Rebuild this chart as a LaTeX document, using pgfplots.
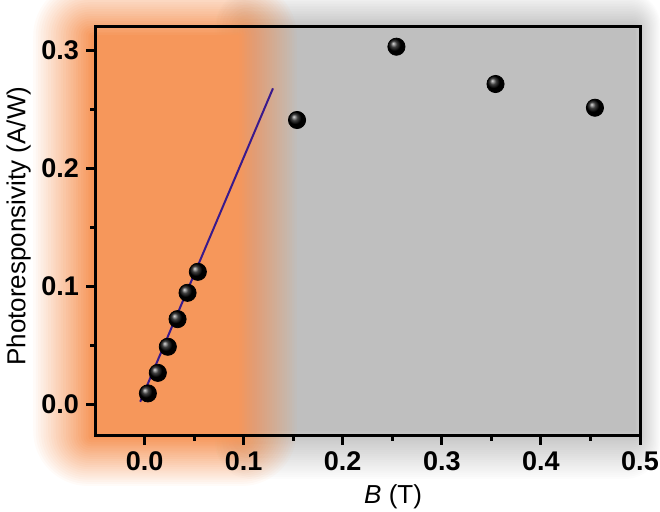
\documentclass[border=0pt]{standalone}
\usepackage{pgfplots}
\pgfplotsset{compat=1.18}
\usepackage{fontspec}
\setmainfont{Liberation Sans}
\definecolor{bgorange}{RGB}{246,151,91}
\definecolor{bggray}{RGB}{191,191,191}
\definecolor{fitline}{RGB}{58,26,140}

\begin{document}
\begin{tikzpicture}
\useasboundingbox (0,0) rectangle (330pt,-256pt);
% soft coloured panels behind the axis, in pixel units (1px = 0.5pt, y down)
\begin{scope}[x=0.5pt,y=-0.5pt]
  % gray panel
  \foreach \k in {1,...,24}{
    \pgfmathsetmacro\op{1/(25-\k)}
    \pgfmathsetmacro\t{-1+(\k-0.5)*2/24}
    \pgfmathsetmacro\r{max(0.3,(1-\t)*9)}
    \fill[bggray,opacity=\op,rounded corners=\r pt]
      (230+15*\t,10+20*\t) rectangle (648-13*\t,455-25*\t);
  }
  % orange panel
  \foreach \k in {1,...,24}{
    \pgfmathsetmacro\op{1/(25-\k)}
    \pgfmathsetmacro\t{-1+(\k-0.5)*2/24}
    \pgfmathsetmacro\r{max(0.3,(1-\t)*14)}
    \fill[bgorange,opacity=\op,rounded corners=\r pt]
      (62+30*\t,8+28*\t) rectangle (268-30*\t,462-25*\t);
  }
\end{scope}

\begin{axis}[
    at={(47.5pt,-218pt)}, anchor=south west,
    scale only axis,
    width=272.5pt, height=204.5pt,
    xmin=-0.05, xmax=0.5,
    ymin=-0.027, ymax=0.3195,
    xtick={0,0.1,0.2,0.3,0.4,0.5},
    ytick={0,0.1,0.2,0.3},
    minor x tick num=1, minor y tick num=1,
    xtick pos=bottom, ytick pos=left,
    tick align=outside,
    major tick length=4.5pt, minor tick length=2.5pt,
    tick style={black, line width=1.5pt},
    axis line style={line width=1.5pt},
    /pgf/number format/.cd, fixed, fixed zerofill, precision=1, assume math mode=true,
    /pgfplots/.cd,
    ticklabel style={font=\fontsize{13.5}{15}\selectfont\bfseries},
    xlabel={\textit{B} (T)},
    ylabel={Photoresponsivity (A/W)},
    label style={font=\fontsize{13}{15}\selectfont},
    xlabel style={at={(axis description cs:0.547,-0.149)}, anchor=center},
    ylabel style={at={(axis description cs:-0.140,0.513)}, anchor=center},
    clip=false,
]
\addplot[only marks, mark=ball, mark size=4.3pt, ball color=black] coordinates {
(0.0034,0.0091) (0.0134,0.0265) (0.0235,0.0486)
(0.0333,0.0720) (0.0434,0.0943) (0.0538,0.1121)
(0.1539,0.2407) (0.2542,0.3028) (0.3542,0.2712) (0.4545,0.2511)
};
\addplot[fitline, line width=1pt] coordinates {(-0.0044,0.0020) (0.1296,0.2675)};
\end{axis}
\end{tikzpicture}
\end{document}
